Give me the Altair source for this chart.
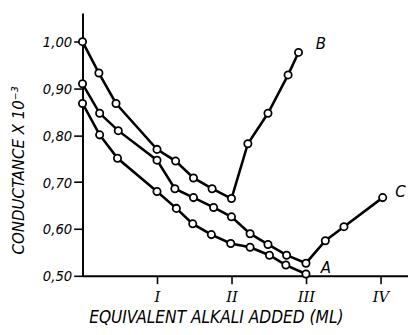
import altair as alt
import pandas as pd

# Curve A (starts 0.87, minimum at III)
xA = [0, 0.23, 0.47, 1.0, 1.26, 1.48, 1.73, 1.99, 2.25, 2.51, 2.73, 3.0]
yA = [0.868, 0.801, 0.751, 0.680, 0.644, 0.611, 0.588, 0.569, 0.561, 0.544, 0.523, 0.504]
# Curve B (starts 1.00, minimum at II)
xB = [0, 0.22, 0.45, 1.0, 1.25, 1.49, 1.74, 2.0, 2.22, 2.49, 2.76, 2.9]
yB = [1.0, 0.933, 0.868, 0.770, 0.745, 0.709, 0.686, 0.665, 0.782, 0.847, 0.929, 0.977]
# Curve C (starts 0.91, minimum at III, then rises)
xC = [0, 0.23, 0.48, 1.0, 1.24, 1.49, 1.76, 2.0, 2.25, 2.49, 2.74, 3.0, 3.26, 3.51, 4.03]
yC = [0.910, 0.847, 0.810, 0.747, 0.686, 0.667, 0.646, 0.626, 0.590, 0.567, 0.544, 0.527, 0.575, 0.605, 0.667]

label_text = ["A", "B", "C"]
label_x = [3.2, 3.13, 4.2]
label_y = [0.517, 0.994, 0.678]

x_ticks = [1, 2, 3, 4]
x_tick_labels = ["I", "II", "III", "IV"]
y_ticks = [0.5, 0.6, 0.7, 0.8, 0.9, 1.0]

rows = []
for name, xs, ys in (("A", xA, yA), ("B", xB, yB), ("C", xC, yC)):
    for i, (x, y) in enumerate(zip(xs, ys)):
        rows.append({"curve": name, "x": x, "y": y, "i": i})
df = pd.DataFrame(rows)
lab = pd.DataFrame({"t": label_text, "x": label_x, "y": label_y})

narrow = "Liberation Sans Narrow, DejaVu Sans Condensed, Arial Narrow, sans-serif"
xlabel_expr = " : ".join(
    f"datum.value == {v} ? '{t}'" for v, t in zip(x_ticks, x_tick_labels)
) + " : ''"

xscale = alt.Scale(domain=[0, 4.37], nice=False, zero=False)
yscale = alt.Scale(domain=[0.5, 1.061], nice=False, zero=False)

xenc = alt.X(
    "x:Q",
    scale=xscale,
    axis=alt.Axis(
        values=x_ticks,
        labelExpr=xlabel_expr,
        title="EQUIVALENT ALKALI ADDED (ML)",
        labelFont="DejaVu Serif",
        labelFontStyle="italic",
        labelFontSize=15,
        labelPadding=6,
        tickSize=8,
        titleFont=narrow,
        titleFontStyle="italic",
        titleFontWeight="normal",
        titleFontSize=17.5,
        titleX=136,
        titleY=48,
        titleAnchor="start",
        titleAlign="center",
        titleBaseline="alphabetic",
    ),
)
yenc = alt.Y(
    "y:Q",
    scale=yscale,
    axis=alt.Axis(
        values=y_ticks,
        labelExpr="replace(format(datum.value, '.2f'), '.', ',')",
        title="CONDUCTANCE X 10⁻³",
        labelFont=narrow,
        labelFontStyle="italic",
        labelFontSize=15,
        labelPadding=2,
        tickSize=9,
        titleFont=narrow,
        titleFontStyle="italic",
        titleFontWeight="normal",
        titleFontSize=17,
        titleAngle=-90,
        titleX=-60,
        titleY=160,
        titleAlign="center",
        titleBaseline="alphabetic",
    ),
)

lines = alt.Chart(df).mark_line(color="black", strokeWidth=2.6).encode(
    x=xenc, y=yenc, detail="curve:N", order="i:Q"
)
points = alt.Chart(df).mark_point(
    shape="circle", filled=True, fill="white", stroke="black", strokeWidth=1.8, size=55, opacity=1
).encode(x=alt.X("x:Q", scale=xscale), y=alt.Y("y:Q", scale=yscale))
labels = alt.Chart(lab).mark_text(
    font=narrow, fontStyle="italic", fontSize=17, color="black", align="left", baseline="middle"
).encode(x=alt.X("x:Q", scale=xscale), y=alt.Y("y:Q", scale=yscale), text="t:N")

chart = (
    alt.layer(lines, points, labels)
    .properties(
        width=332,
        height=268,
        autosize=alt.AutoSizeParams(type="none"),
        padding={"left": 76, "top": 2, "right": 0, "bottom": 49},
    )
    .configure_view(stroke=None)
    .configure_axis(
        grid=False,
        domainColor="black",
        domainWidth=2,
        tickColor="black",
        tickWidth=1.6,
        labelColor="black",
        titleColor="black",
    )
)

chart.save("out.html", embed_options={"renderer": "svg", "actions": False})
